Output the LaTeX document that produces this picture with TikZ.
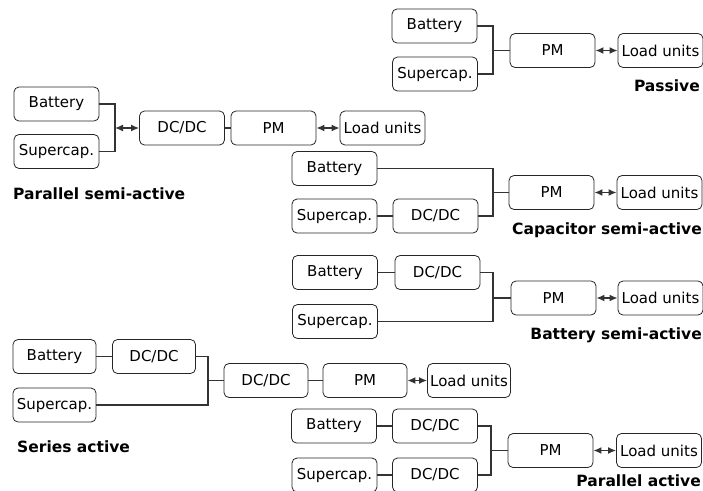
\documentclass[tikz,border=0pt]{standalone}
\usepackage{fontspec}
\setmainfont{DejaVu Sans}
\usetikzlibrary{arrows.meta}
\begin{document}
\begin{tikzpicture}[x=1pt,y=-1pt,
  blk/.style={draw=black!85, line width=0.8pt, rounded corners=5pt, minimum width=85pt, minimum height=34pt, inner sep=0pt, font=\fontsize{15}{16}\selectfont},
  wire/.style={draw=black!80, line width=1.5pt},
  dbl/.style={wire, {Latex[length=8pt,width=7pt]}-{Latex[length=8pt,width=7pt]}},
  ttl/.style={font=\fontsize{15.5}{17}\selectfont\bfseries, inner sep=0pt}]
\useasboundingbox (0,0) rectangle (703,490);
\clip (0,0) rectangle (703,490);
% Passive
\node[blk] (pB) at (434.5,26) {Battery};
\node[blk] (pS) at (435,74) {Supercap.};
\node[blk] (pPM) at (552.5,50.5) {PM};
\node[blk] (pL) at (660.5,50.5) {Load units};
\coordinate (pJ) at (493,50.5);
\draw[wire] (pB.east) -| (pJ) |- (pS.east);
\draw[wire] (pJ) -- (pPM.west);
\draw[dbl] (pPM.east) -- (pL.west);
\node[ttl, anchor=base east] (pT) at (700,91) {Passive};
% Parallel semi-active
\node[blk] (aB) at (56.5,104) {Battery};
\node[blk] (aS) at (56.5,151.5) {Supercap.};
\node[blk] (aD) at (182,128) {DC/DC};
\node[blk] (aPM) at (273.5,128) {PM};
\node[blk] (aL) at (382.5,128) {Load units};
\coordinate (aJ) at (115,128);
\draw[wire] (aB.east) -| (aJ) |- (aS.east);
\draw[dbl] (aJ) -- (aD.west);
\draw[wire] (aD.east) -- (aPM.west);
\draw[dbl] (aPM.east) -- (aL.west);
\node[ttl, anchor=base west] (aT) at (13,199) {Parallel semi-active};
% Capacitor semi-active
\node[blk] (cB) at (334.5,168.5) {Battery};
\node[blk] (cS) at (334.5,216) {Supercap.};
\node[blk] (cD) at (435.5,216) {DC/DC};
\node[blk] (cPM) at (551.5,192.5) {PM};
\node[blk] (cL) at (659.5,192.5) {Load units};
\coordinate (cJ) at (493,192.5);
\draw[wire] (cB.east) -| (cJ) |- (cD.east);
\draw[wire] (cS.east) -- (cD.west);
\draw[wire] (cJ) -- (cPM.west);
\draw[dbl] (cPM.east) -- (cL.west);
\node[ttl, anchor=base east] (cT) at (702,234) {Capacitor semi-active};
% Battery semi-active
\node[blk] (bB) at (335,272.5) {Battery};
\node[blk] (bD) at (437.5,272.5) {DC/DC};
\node[blk] (bS) at (335,321.5) {Supercap.};
\node[blk] (bPM) at (553.5,298) {PM};
\node[blk] (bL) at (660.5,298) {Load units};
\coordinate (bJ) at (493,298);
\draw[wire] (bB.east) -- (bD.west);
\draw[wire] (bD.east) -| (bJ) |- (bS.east);
\draw[wire] (bJ) -- (bPM.west);
\draw[dbl] (bPM.east) -- (bL.west);
\node[ttl, anchor=base east] (bT) at (702,339) {Battery semi-active};
% Series active
\node[blk, minimum width=83pt] (sB) at (54.5,356.5) {Battery};
\node[blk, minimum width=83pt] (sD1) at (154,356.5) {DC/DC};
\node[blk, minimum width=83pt] (sS) at (54.5,405) {Supercap.};
\node[blk, minimum width=84pt] (sD2) at (266,380.5) {DC/DC};
\node[blk, minimum width=84pt] (sPM) at (365,380.5) {PM};
\node[blk, minimum width=83pt] (sL) at (469,380.5) {Load units};
\coordinate (sJ) at (208,380.5);
\draw[wire] (sB.east) -- (sD1.west);
\draw[wire] (sD1.east) -| (sJ) |- (sS.east);
\draw[wire] (sJ) -- (sD2.west);
\draw[wire] (sD2.east) -- (sPM.west);
\draw[dbl] (sPM.east) -- (sL.west);
\node[ttl, anchor=base west] (sT) at (17,452) {Series active};
% Parallel active
\node[blk] (qB) at (334,426) {Battery};
\node[blk] (qD1) at (435,426) {DC/DC};
\node[blk] (qS) at (334.5,475) {Supercap.};
\node[blk] (qD2) at (435,475) {DC/DC};
\node[blk] (qPM) at (550.5,450.5) {PM};
\node[blk] (qL) at (659,450.5) {Load units};
\coordinate (qJ) at (491,450.5);
\draw[wire] (qB.east) -- (qD1.west);
\draw[wire] (qS.east) -- (qD2.west);
\draw[wire] (qD1.east) -| (qJ) |- (qD2.east);
\draw[wire] (qJ) -- (qPM.west);
\draw[dbl] (qPM.east) -- (qL.west);
\node[ttl, anchor=base east] (qT) at (701,486) {Parallel active};
\end{tikzpicture}
\end{document}
